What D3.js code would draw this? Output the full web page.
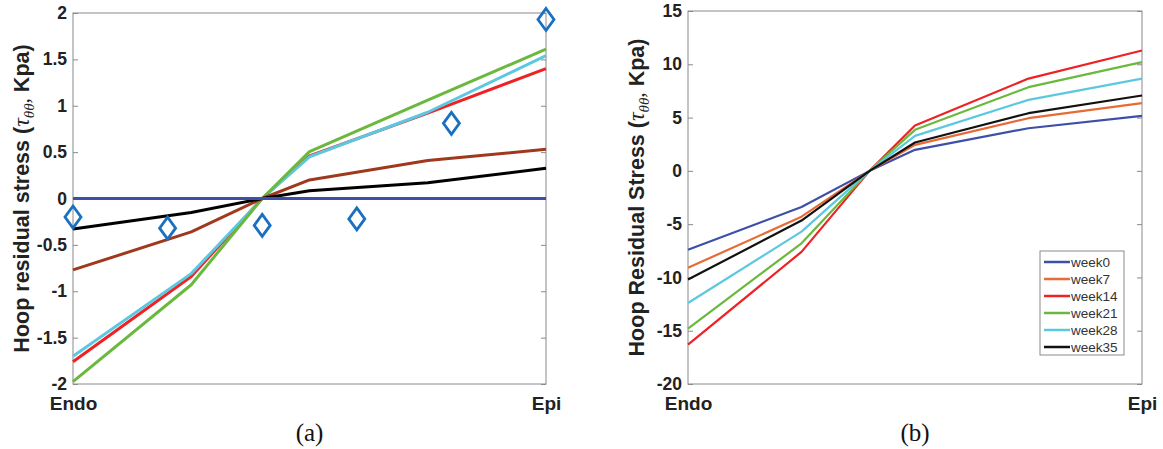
<!DOCTYPE html>
<html>
<head>
<meta charset="utf-8">
<script src="https://cdn.jsdelivr.net/npm/d3@7"></script>
<style>
  body { margin: 0; background: #fff; }
  svg { display: block; }
  .tick text { font-family: "Liberation Sans", Arial, sans-serif; font-weight: bold; fill: #222; }
</style>
</head>
<body>
<div id="chart"></div>
<script>
// x positions across the wall (Endo = 0, Epi = 1)
var xPos = [0, 0.25, 0.4, 0.5, 0.75, 1];

// panel (a) model curves
var blueA  = [0, 0, 0, 0, 0, 0];
var blackA = [-0.33, -0.15, 0, 0.084, 0.17, 0.325];
var brownA = [-0.77, -0.36, 0, 0.2, 0.41, 0.53];
var redA   = [-1.76, -0.84, 0, 0.46, 0.92, 1.40];
var cyanA  = [-1.70, -0.81, 0, 0.45, 0.93, 1.54];
var greenA = [-1.975, -0.93, 0, 0.505, 1.06, 1.61];

// panel (a) measured points (diamonds)
var expX = [0, 0.2, 0.4, 0.6, 0.8, 1];
var expY = [-0.20, -0.32, -0.29, -0.22, 0.81, 1.93];

// panel (b) weeks
var weekNames = ["week0", "week7", "week14", "week21", "week28", "week35"];
var week0  = [-7.4, -3.4, 0, 1.97, 4.0, 5.16];
var week7  = [-9.1, -4.3, 0, 2.44, 4.94, 6.35];
var week14 = [-16.3, -7.6, 0, 4.25, 8.66, 11.29];
var week21 = [-14.8, -6.8, 0, 3.85, 7.85, 10.2];
var week28 = [-12.4, -5.7, 0, 3.28, 6.66, 8.66];
var week35 = [-10.2, -4.66, 0, 2.66, 5.41, 7.07];

var ticksA = [-2, -1.5, -1, -0.5, 0, 0.5, 1, 1.5, 2];
var ticksB = [-20, -15, -10, -5, 0, 5, 10, 15];
var xTickLabels = ["Endo", "Epi"];

var svg = d3.select("#chart").append("svg")
    .attr("width", 1163)
    .attr("height", 449);

var axisColor = "#8a8a8a";

// draws box, ticks, labels for one panel
function drawFrame(x, y, ticks, labelMain, caption) {
    var g = svg.append("g");
    var x0 = x.range()[0], x1 = x.range()[1];
    var y0 = y.range()[0], y1 = y.range()[1];

    g.append("rect")
        .attr("x", x0).attr("y", y1)
        .attr("width", x1 - x0).attr("height", y0 - y1)
        .attr("fill", "none").attr("stroke", axisColor).attr("stroke-width", 1);

    var left = g.append("g")
        .attr("transform", "translate(" + x0 + ",0)")
        .call(d3.axisLeft(y).tickValues(ticks).tickSizeInner(-5).tickSizeOuter(0)
            .tickPadding(6).tickFormat(function(d) { return String(d); }));
    var right = g.append("g")
        .attr("transform", "translate(" + x1 + ",0)")
        .call(d3.axisRight(y).tickValues(ticks).tickSizeInner(-5).tickSizeOuter(0)
            .tickFormat(""));
    var bottom = g.append("g")
        .attr("transform", "translate(0," + y0 + ")")
        .call(d3.axisBottom(x).tickValues([0, 1]).tickSize(0).tickPadding(13)
            .tickFormat(function(d, i) { return xTickLabels[i]; }));

    [left, right, bottom].forEach(function(a) {
        a.select(".domain").remove();
        a.selectAll("line").attr("stroke", axisColor);
    });
    left.selectAll("text").style("font-size", "17.5px");
    bottom.selectAll("text").style("font-size", "19px");

    // rotated y label with math part
    var lab = g.append("text")
        .attr("transform", "translate(" + (x0 - 52) + "," + ((y0 + y1) / 2) + ") rotate(-90)")
        .attr("text-anchor", "middle")
        .attr("dy", "0.35em")
        .style("font-family", "Liberation Sans, Arial, sans-serif")
        .style("font-weight", "bold")
        .style("font-size", "21.5px")
        .attr("fill", "#222");
    lab.append("tspan").text(labelMain + " (");
    lab.append("tspan").text("τ")
        .style("font-family", "Liberation Serif, Times New Roman, serif")
        .style("font-style", "italic").style("font-weight", "normal")
        .style("font-size", "24px");
    lab.append("tspan").text("θθ")
        .attr("dy", "5")
        .style("font-family", "Liberation Serif, Times New Roman, serif")
        .style("font-style", "italic").style("font-weight", "normal")
        .style("font-size", "15px");
    lab.append("tspan").text(",").attr("dy", "-5")
        .style("font-family", "Liberation Serif, serif").style("font-style", "italic")
        .style("font-weight", "normal");
    lab.append("tspan").text(" Kpa)");

    g.append("text")
        .attr("x", (x0 + x1) / 2)
        .attr("y", 441)
        .attr("text-anchor", "middle")
        .style("font-family", "Liberation Serif, Times New Roman, serif")
        .style("font-size", "25px")
        .attr("fill", "#111")
        .text(caption);
}

// ---------- panel (a)
var xA = d3.scaleLinear().domain([0, 1]).range([73, 546]);
var yA = d3.scaleLinear().domain([-2, 2]).range([384, 13]);
drawFrame(xA, yA, ticksA, "Hoop residual stress", "(a)");

var lineA = d3.line()
    .x(function(d, i) { return xA(xPos[i]); })
    .y(function(d) { return yA(d); });

var seriesA = [
    { v: redA, c: "#ee2224" },
    { v: cyanA, c: "#5cc8e0" },
    { v: greenA, c: "#6ab93e" },
    { v: brownA, c: "#a0381e" },
    { v: blackA, c: "#000000" },
    { v: blueA, c: "#3d4fa6" }
];
svg.append("g").selectAll("path")
    .data(seriesA)
    .join("path")
    .attr("d", function(s) { return lineA(s.v); })
    .attr("fill", "none")
    .attr("stroke", function(s) { return s.c; })
    .attr("stroke-width", 3)
    .attr("stroke-linejoin", "round");

var diamond = d3.line()([[0, -11], [8, 0], [0, 11], [-8, 0]]) + "Z";
svg.append("g").selectAll("path")
    .data(expY)
    .join("path")
    .attr("transform", function(d, i) { return "translate(" + xA(expX[i]) + "," + yA(d) + ")"; })
    .attr("d", diamond)
    .attr("fill", "none")
    .attr("stroke", "#1a6fc0")
    .attr("stroke-width", 2.8);

// ---------- panel (b)
var xB = d3.scaleLinear().domain([0, 1]).range([688, 1142]);
var yB = d3.scaleLinear().domain([-20, 15]).range([384, 11]);
drawFrame(xB, yB, ticksB, "Hoop Residual Stress", "(b)");

var lineB = d3.line()
    .x(function(d, i) { return xB(xPos[i]); })
    .y(function(d) { return yB(d); });

var weekVals = [week0, week7, week14, week21, week28, week35];
var weekColors = ["#3d4fa6", "#e86a36", "#ee2224", "#6ab93e", "#5cc8e0", "#111111"];

svg.append("g").selectAll("path")
    .data(weekVals)
    .join("path")
    .attr("d", lineB)
    .attr("fill", "none")
    .attr("stroke", function(d, i) { return weekColors[i]; })
    .attr("stroke-width", 2.2)
    .attr("stroke-linejoin", "round");

// legend
var leg = svg.append("g").attr("transform", "translate(1040,251)");
leg.append("rect")
    .attr("width", 84).attr("height", 104)
    .attr("fill", "#fff").attr("stroke", "#8a8a8a");
var rows = leg.selectAll("g.row")
    .data(weekNames)
    .join("g")
    .attr("class", "row")
    .attr("transform", function(d, i) { return "translate(0," + (11 + i * 17) + ")"; });
rows.append("line")
    .attr("x1", 4).attr("x2", 30)
    .attr("stroke", function(d, i) { return weekColors[i]; })
    .attr("stroke-width", 2.5);
rows.append("text")
    .attr("x", 31).attr("dy", "0.35em")
    .style("font-family", "Liberation Sans, Arial, sans-serif")
    .style("font-size", "13.5px")
    .attr("fill", "#333")
    .text(function(d) { return d; });
</script>
</body>
</html>
